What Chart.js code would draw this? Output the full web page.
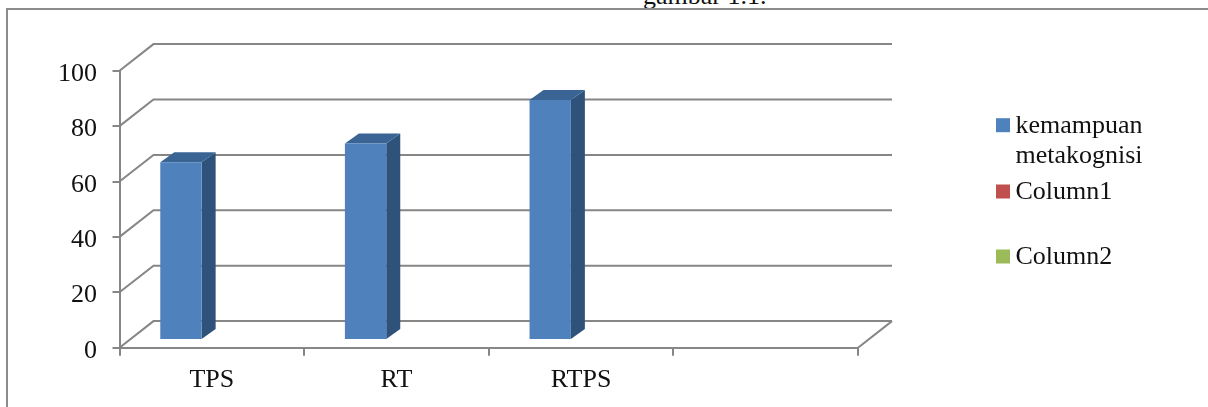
<!DOCTYPE html>
<html>
<head>
<meta charset="utf-8">
<style>
  html, body { margin: 0; padding: 0; background: #fff; }
  #wrap { position: relative; width: 1208px; height: 407px; overflow: hidden; }
  #caption { position: absolute; left: 643px; top: -19px; height: 27px; overflow: hidden; font: 26px/30px "Liberation Serif", serif; color: #111; white-space: nowrap; }
  #frame { position: absolute; left: 6px; top: 8px; width: 1300px; height: 500px; border: 2px solid #8c8c8c; box-sizing: border-box; }
  canvas { position: absolute; left: 0; top: 0; }
</style>
</head>
<body>
<div id="wrap">
  <div id="caption">gambar 1.1.</div>
  <div id="frame"></div>
  <canvas id="chart" width="1208" height="407"></canvas>
</div>
<script src="https://cdn.jsdelivr.net/npm/chart.js@4"></script>
<script>
// data
const categories = ['TPS', 'RT', 'RTPS', ''];
const kemampuan = [64.2, 70.9, 86.6, null];
const column1 = [null, null, null, null];
const column2 = [null, null, null, null];
const yTicks = [0, 20, 40, 60, 80, 100];

const FONT = '"Liberation Serif", serif';
const FONT_SIZE = 26;
const AXIS = '#868686';
const TEXT = '#111111';

// depth of the fake 3D box, and how far the bars sit inside it
const WALL_DX = 34, WALL_DY = 26.6;
const BAR_DX = 10.5, BAR_DY = 7.7;
const SIDE_DX = 14, SIDE_DY = 10;

// grid on the side wall and back wall, floor edge too
const wallPlugin = {
  id: 'wall',
  beforeDatasetsDraw(chart) {
    const { ctx, chartArea } = chart;
    const y = chart.scales.y;
    ctx.save();
    ctx.strokeStyle = AXIS;
    ctx.lineWidth = 2;
    y.ticks.forEach(t => {
      const py = y.getPixelForValue(t.value);
      ctx.beginPath();
      ctx.moveTo(chartArea.left, py);
      ctx.lineTo(chartArea.left + WALL_DX, py - WALL_DY);
      ctx.lineTo(chartArea.right + WALL_DX, py - WALL_DY);
      ctx.stroke();
    });
    const floor = y.getPixelForValue(0);
    ctx.beginPath();
    ctx.moveTo(chartArea.right, floor);
    ctx.lineTo(chartArea.right + WALL_DX, floor - WALL_DY);
    ctx.stroke();
    ctx.restore();
  },
};

// side and top faces, then shift the front faces into the box
const barDepthPlugin = {
  id: 'barDepth',
  beforeDatasetsDraw(chart) {
    const { ctx } = chart;
    ctx.save();
    ctx.translate(BAR_DX, -BAR_DY);
    chart.getDatasetMeta(0).data.forEach((bar, i) => {
      if (kemampuan[i] == null) return;
      const { x, y, base, width } = bar.getProps(['x', 'y', 'base', 'width'], true);
      const r = x + width / 2, l = x - width / 2;
      ctx.fillStyle = '#2f527a';
      ctx.beginPath();
      ctx.moveTo(r, y);
      ctx.lineTo(r + SIDE_DX, y - SIDE_DY);
      ctx.lineTo(r + SIDE_DX, base - SIDE_DY);
      ctx.lineTo(r, base);
      ctx.closePath();
      ctx.fill();
      ctx.fillStyle = '#3a6494';
      ctx.beginPath();
      ctx.moveTo(l, y);
      ctx.lineTo(l + SIDE_DX, y - SIDE_DY);
      ctx.lineTo(r + SIDE_DX, y - SIDE_DY);
      ctx.lineTo(r, y);
      ctx.closePath();
      ctx.fill();
    });
  },
  afterDatasetsDraw(chart) {
    chart.ctx.restore();
  },
};

// native y labels sit about 3px too high, so they are drawn here
const yLabelPlugin = {
  id: 'yLabels',
  afterDraw(chart) {
    const { ctx } = chart;
    const y = chart.scales.y;
    ctx.save();
    ctx.font = FONT_SIZE + 'px ' + FONT;
    ctx.fillStyle = TEXT;
    ctx.textAlign = 'right';
    ctx.textBaseline = 'alphabetic';
    yTicks.forEach(v => ctx.fillText(String(v), 97, y.getPixelForValue(v) + 10));
    ctx.restore();
  },
};

// legend spacing in the original is uneven and the first entry wraps
const legendPlugin = {
  id: 'sideLegend',
  afterDraw(chart) {
    const { ctx } = chart;
    const slots = [[132.7, 163], [199], [264]];
    ctx.save();
    ctx.font = FONT_SIZE + 'px ' + FONT;
    ctx.textBaseline = 'alphabetic';
    chart.data.datasets.forEach((ds, i) => {
      const lines = ds.label.split(' ');
      ctx.fillStyle = ds.backgroundColor;
      ctx.fillRect(996, slots[i][0] - 14.5, 14, 14);
      ctx.fillStyle = TEXT;
      lines.forEach((line, j) => ctx.fillText(line, 1015.5, slots[i][j]));
    });
    ctx.restore();
  },
};

new Chart(document.getElementById('chart'), {
  type: 'bar',
  data: {
    labels: categories,
    datasets: [
      { label: 'kemampuan metakognisi', data: kemampuan, backgroundColor: '#4f81bd' },
      { label: 'Column1', data: column1, backgroundColor: '#c0504d' },
      { label: 'Column2', data: column2, backgroundColor: '#9bbb59' },
    ],
  },
  options: {
    responsive: false,
    animation: false,
    layout: { padding: { top: 70.7, right: 350, left: 0, bottom: 0 } },
    datasets: { bar: { categoryPercentage: 0.672, barPercentage: 1 } },
    plugins: { legend: { display: false }, tooltip: { enabled: false } },
    scales: {
      x: {
        afterFit: s => { s.height = 59.3; },
        border: { color: AXIS, width: 2 },
        grid: { drawOnChartArea: false, color: AXIS, lineWidth: 2, tickLength: 8 },
        ticks: { color: TEXT, font: { family: FONT, size: FONT_SIZE }, padding: 9, maxRotation: 0 },
      },
      y: {
        min: 0,
        max: 100,
        afterFit: s => { s.width = 119.5; },
        afterBuildTicks: s => { s.ticks = yTicks.map(value => ({ value })); },
        border: { color: AXIS, width: 2 },
        grid: { drawOnChartArea: false, color: AXIS, lineWidth: 2, tickLength: 7 },
        ticks: { display: false },
      },
    },
  },
  plugins: [wallPlugin, barDepthPlugin, yLabelPlugin, legendPlugin],
});
</script>
</body>
</html>
